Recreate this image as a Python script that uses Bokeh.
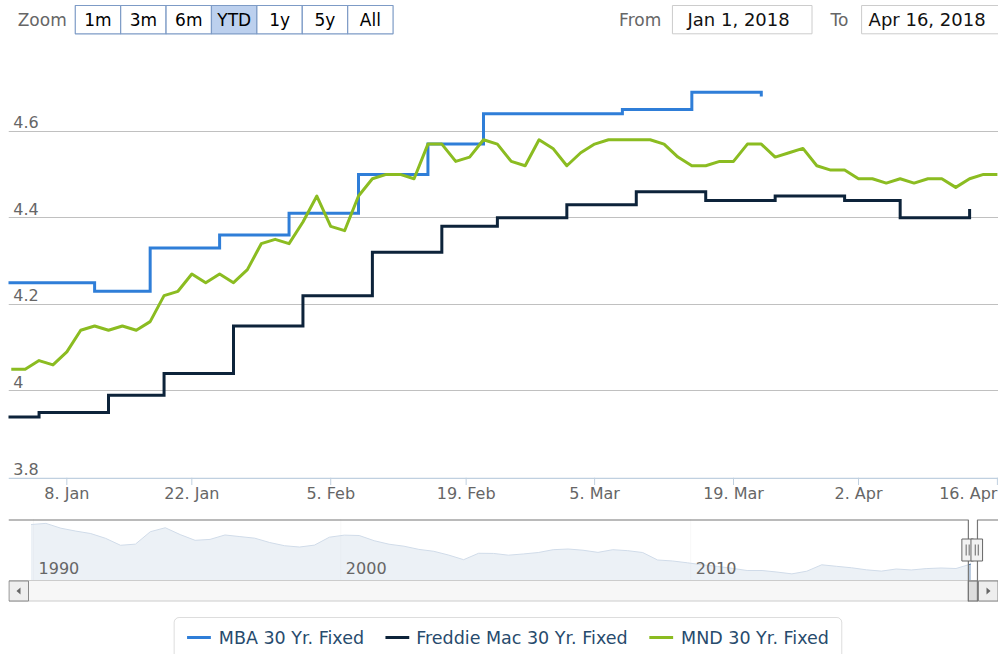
import numpy as np
import pandas as pd
from bokeh.plotting import figure
from bokeh.models import Range1d, FixedTicker, Grid, BoxAnnotation
from bokeh.layouts import column
from bokeh.embed import file_html
from bokeh.resources import INLINE
from bokeh.core.properties import value

FONT = "DejaVu Sans"
W = 998

# ---------------- data ----------------
holidays = ["2018-01-15", "2018-02-19", "2018-03-30"]
mnd_dates = [d for d in pd.bdate_range("2018-01-02", "2018-04-16")
             if d.strftime("%Y-%m-%d") not in holidays]
mnd_rates = [4.05, 4.05, 4.07, 4.06, 4.09, 4.14, 4.15, 4.14, 4.15, 4.14,
             4.16, 4.22, 4.23, 4.27, 4.25, 4.27, 4.25, 4.28, 4.34, 4.35,
             4.34, 4.39, 4.45, 4.38, 4.37, 4.45, 4.49, 4.50, 4.50, 4.49,
             4.57, 4.57, 4.53, 4.54, 4.58, 4.57, 4.53, 4.52, 4.58, 4.56,
             4.52, 4.55, 4.57, 4.58, 4.58, 4.58, 4.58, 4.57, 4.54, 4.52,
             4.52, 4.53, 4.53, 4.57, 4.57, 4.54, 4.55, 4.56, 4.52, 4.51,
             4.51, 4.49, 4.49, 4.48, 4.49, 4.48, 4.49, 4.49, 4.47, 4.49,
             4.50, 4.50]

mba_dates = ["2017-12-27", "2018-01-03", "2018-01-10", "2018-01-17", "2018-01-24",
             "2018-01-31", "2018-02-07", "2018-02-14", "2018-02-21", "2018-02-28",
             "2018-03-07", "2018-03-14", "2018-03-21"]
mba_rates = [4.25, 4.25, 4.23, 4.33, 4.36, 4.41, 4.50, 4.57, 4.64, 4.64, 4.65, 4.69, 4.68]

fm_dates = ["2017-12-28", "2018-01-04", "2018-01-11", "2018-01-18", "2018-01-25",
            "2018-02-01", "2018-02-08", "2018-02-15", "2018-02-22", "2018-03-01",
            "2018-03-08", "2018-03-15", "2018-03-22", "2018-03-29", "2018-04-05",
            "2018-04-12"]
fm_rates = [3.94, 3.95, 3.99, 4.04, 4.15, 4.22, 4.32, 4.38, 4.40, 4.43, 4.46, 4.44,
            4.45, 4.44, 4.40, 4.42]

tick_dates = ["2018-01-08", "2018-01-22", "2018-02-05", "2018-02-19",
              "2018-03-05", "2018-03-19", "2018-04-02", "2018-04-16"]
tick_labels = ["8. Jan", "22. Jan", "5. Feb", "19. Feb", "5. Mar", "19. Mar", "2. Apr", "16. Apr"]
y_ticks = [3.8, 4.0, 4.2, 4.4, 4.6]
y_tick_labels = ["3.8", "4", "4.2", "4.4", "4.6"]
view_from, view_to = "2018-01-01", "2018-04-16"

# navigator (whole history, evenly spaced points of an ordinal axis)
nav_rates = [10.34, 10.49, 9.86, 9.48, 9.16, 8.53, 7.62, 7.77, 9.40, 9.92,
             9.02, 8.27, 8.39, 8.97, 8.76, 8.55, 7.98, 7.56, 7.39, 7.64,
             8.68, 8.95, 8.90, 8.22, 7.76, 7.50, 7.08, 6.83, 6.33, 5.73,
             6.57, 6.55, 6.32, 6.48, 6.67, 7.04, 7.13, 6.97, 6.69, 7.04,
             6.91, 6.67, 5.69, 5.56, 5.32, 5.06, 4.85, 4.60, 4.31, 4.31,
             4.11, 3.87, 4.22, 5.06, 4.86, 4.67, 4.40, 4.23, 4.51, 4.38,
             4.56, 4.64, 4.57, 5.16]
nav_year_labels = ["1990", "2000", "2010"]
nav_year_pos = [0.17, 20.77, 44.22]
nav_span = (-1.508, 64.85)
nav_selected = (62.83, 63.44)
nav_ylim = (3.0, 11.0)

buttons = ["1m", "3m", "6m", "YTD", "1y", "5y", "All"]
selected_button = "YTD"
series_names = ["MBA 30 Yr. Fixed", "Freddie Mac 30 Yr. Fixed", "MND 30 Yr. Fixed"]
series_colors = ["#2f7ed8", "#0d233a", "#8bbc21"]

# ---------------- ordinal x axis (as in Highstock) ----------------
all_days = pd.DatetimeIndex(sorted(set(pd.to_datetime(mnd_dates)) |
                                   set(pd.to_datetime(mba_dates)) |
                                   set(pd.to_datetime(fm_dates))))
day_ns = all_days.asi8.astype(float)
day_pos = np.arange(len(all_days), dtype=float)


def ordinal(dates):
    t = pd.DatetimeIndex(pd.to_datetime(list(dates))).asi8.astype(float)
    return np.interp(t, day_ns, day_pos)


x0 = float(ordinal([view_from])[0])
x1 = float(ordinal([view_to])[0]) + 0.08
tick_pos = [float(v) for v in ordinal(tick_dates)]


def bare(f):
    f.outline_line_color = None
    f.center = [r for r in f.center if not isinstance(r, Grid)]
    return f


def pix_fig(h, left=0):
    f = figure(width=W, height=h, x_range=Range1d(left, W), y_range=Range1d(h, 0),
               output_backend="svg", toolbar_location=None,
               x_axis_location=None, y_axis_location=None, min_border=0,
               min_border_left=left,
               background_fill_color="white", border_fill_color="white")
    return bare(f)


# ---------------- top bar: range selector + inputs ----------------
top = pix_fig(44)
bx0, bw, by0, by1, bmid = 67.3, 45.77, 5.0, 33.3, 19.2
lefts = [bx0 + i * bw for i in range(len(buttons))]
top.quad(left=lefts, right=[l + bw for l in lefts], top=[by0] * len(buttons),
         bottom=[by1] * len(buttons),
         fill_color=["#bcd0ee" if b == selected_button else "#ffffff" for b in buttons],
         line_color="#7d9bc6", line_width=1.2)
top.text(x=[l + bw / 2 for l in lefts], y=[bmid] * len(buttons), text=buttons,
         text_align="center", text_baseline="middle", text_font=value(FONT),
         text_font_size="17px", text_color="#000000")
top.text(x=[9.3], y=[bmid], text=["Zoom"], text_align="left", text_baseline="middle",
         text_font=value(FONT), text_font_size="17px", text_color="#666666")
top.text(x=[658, 846.7], y=[bmid, bmid], text=["From", "To"], text_align="right",
         text_baseline="middle", text_font=value(FONT), text_font_size="17px",
         text_color="#666666")
top.quad(left=[669.3, 860], right=[810, 1005], top=[by0, by0], bottom=[by1, by1],
         fill_color="#ffffff", line_color="#cccccc", line_width=1)
top.text(x=[736, 926], y=[bmid, bmid], text=["Jan 1, 2018", "Apr 16, 2018"],
         text_align="center", text_baseline="middle", text_font=value(FONT),
         text_font_size="18px", text_color="#111111")

# ---------------- main chart ----------------
p = figure(width=W, height=433, x_range=Range1d(x0, x1), y_range=Range1d(3.8, 4.8),
           output_backend="svg", toolbar_location=None,
           x_axis_location=None, y_axis_location=None,
           min_border=0, min_border_left=8,
           background_fill_color="white", border_fill_color="white")
bare(p)
p.add_layout(Grid(dimension=1, ticker=FixedTicker(ticks=y_ticks[1:]),
                  grid_line_color="#C0C0C0", grid_line_width=1))

p.step(x=ordinal(mba_dates), y=mba_rates, mode="after", line_color=series_colors[0],
       line_width=3, line_join="miter")
p.step(x=ordinal(fm_dates), y=fm_rates, mode="after", line_color=series_colors[1],
       line_width=3, line_join="miter")
p.line(x=ordinal(mnd_dates), y=mnd_rates, line_color=series_colors[2], line_width=3,
       line_join="round")

p.text(x=[x0] * len(y_ticks), y=y_ticks, text=y_tick_labels, x_offset=4.7, y_offset=-9,
       text_align="left", text_baseline="middle", text_font=value(FONT),
       text_font_size="16px", text_color="#666666")

# ---------------- x axis strip (shares the main x scale) ----------------
xs = figure(width=W, height=33, x_range=p.x_range, y_range=Range1d(33, 0),
            output_backend="svg", toolbar_location=None,
            x_axis_location=None, y_axis_location=None,
            min_border=0, min_border_left=8,
            background_fill_color="white", border_fill_color="white")
bare(xs)
xs.segment(x0=[x0], y0=[0.75], x1=[x1], y1=[0.75], line_color="#C0D0E0", line_width=1.5)
xs.segment(x0=tick_pos, y0=[0] * len(tick_pos), x1=tick_pos, y1=[7.5] * len(tick_pos),
           line_color="#C0D0E0", line_width=1)
xs.text(x=tick_pos[:-1], y=[15.5] * (len(tick_pos) - 1), text=tick_labels[:-1],
        text_align="center", text_baseline="middle", text_font=value(FONT),
        text_font_size="16px", text_color="#666666")
xs.text(x=tick_pos[-1:], y=[15.5], text=tick_labels[-1:], text_align="right",
        text_baseline="middle", text_font=value(FONT), text_font_size="16px",
        text_color="#666666")

# ---------------- navigator + scrollbar ----------------
nav = pix_fig(100, left=8)
NAV_TOP, NAV_BOT, SB_BOT = 9.0, 70.0, 91.0
slope = (nav_ylim[1] - nav_ylim[0]) / (NAV_BOT - NAV_TOP)
nav.extra_x_ranges = {"nx": Range1d(*nav_span)}
nav.extra_y_ranges = {"ny": Range1d(nav_ylim[0] - (100 - NAV_BOT) * slope,
                                    nav_ylim[1] + NAV_TOP * slope)}


def nav_fx(i):
    return 8 + (i - nav_span[0]) / (nav_span[1] - nav_span[0]) * (W - 8)


nav.segment(x0=nav_year_pos, y0=[NAV_TOP] * 3, x1=nav_year_pos, y1=[NAV_BOT] * 3,
            x_range_name="nx", line_color="#e2e2e2", line_width=1)
nav_x = list(range(len(nav_rates)))
nav.varea(x=nav_x, y1=[nav_ylim[0]] * len(nav_rates), y2=nav_rates, x_range_name="nx",
          y_range_name="ny", fill_color="#4572A7", fill_alpha=0.4)
nav.line(x=nav_x, y=nav_rates, x_range_name="nx", y_range_name="ny",
         line_color="#4572A7", line_width=1)
s0, s1 = nav_fx(nav_selected[0]), nav_fx(nav_selected[1])
nav.quad(left=[8, s1], right=[s0, W], top=[NAV_TOP, NAV_TOP], bottom=[NAV_BOT, NAV_BOT],
         fill_color="white", fill_alpha=0.75, line_color=None)
nav.text(x=nav_year_pos, y=[57] * 3, text=nav_year_labels, x_range_name="nx", x_offset=5,
         text_align="left", text_baseline="middle", text_font=value(FONT),
         text_font_size="16px", text_color="#666666")
# scrollbar
nav.quad(left=[8.5], right=[W - 0.5], top=[NAV_BOT], bottom=[SB_BOT - 0.5],
         fill_color="#f7f7f7", line_color="#cccccc", line_width=1)
nav.quad(left=[s0], right=[s1], top=[NAV_BOT + 0.5], bottom=[SB_BOT - 0.5],
         fill_color="#dddddd", line_color="#666666", line_width=1)
nav.quad(left=[8.5, W - 20], right=[28, W - 0.5], top=[NAV_BOT + 0.5] * 2,
         bottom=[SB_BOT - 0.5] * 2, fill_color="#eeeeee", line_color="#888888", line_width=1)
mid = (NAV_BOT + SB_BOT) / 2
nav.patches(xs=[[16, 20, 20], [W - 8, W - 12, W - 12]],
            ys=[[mid, mid - 3.5, mid + 3.5], [mid, mid - 3.5, mid + 3.5]],
            fill_color="#666666", line_color=None)
# outline
nav.multi_line(xs=[[8, s0, s0], [s1, s1, W]],
               ys=[[NAV_TOP + 0.5, NAV_TOP + 0.5, SB_BOT], [SB_BOT, NAV_TOP + 0.5, NAV_TOP + 0.5]],
               line_color="#777777", line_width=1.2)
# handles
hc = (NAV_TOP + NAV_BOT) / 2
for s in (s0, s1):
    nav.quad(left=[s - 6.5], right=[s + 5.1], top=[hc - 11], bottom=[hc + 11],
             fill_color="#f2f2f2", line_color="#666666", line_width=1)
    nav.segment(x0=[s - 2.2, s + 0.8], y0=[hc - 5.5] * 2, x1=[s - 2.2, s + 0.8],
                y1=[hc + 5.5] * 2, line_color="#666666", line_width=1)

# ---------------- legend ----------------
leg = pix_fig(44)
leg.add_layout(BoxAnnotation(left=167, right=840, top=7, bottom=70, fill_alpha=0,
                             line_color="#909090", line_width=1, border_radius=5))
sym_x0 = [180, 380, 646]
txt_x = [212, 411, 678]
leg.segment(x0=sym_x0, y0=[27] * 3, x1=[s + 24 for s in sym_x0], y1=[27] * 3,
            line_color=series_colors, line_width=3)
leg.text(x=txt_x, y=[27] * 3, text=series_names, text_align="left", text_baseline="middle",
         text_font=value(FONT), text_font_size="17.5px", text_color="#274b6d")

layout = column(top, p, xs, nav, leg, spacing=0)
open("out.html", "w").write(file_html(layout, INLINE))
